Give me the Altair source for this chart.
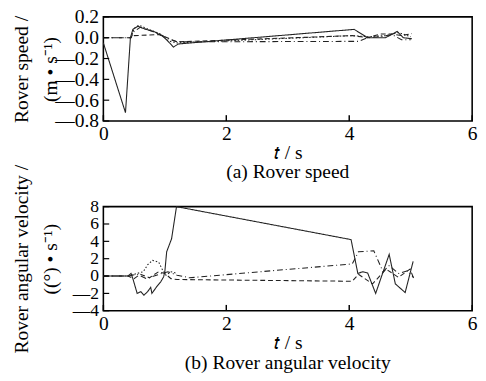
import altair as alt
import pandas as pd

# ---------- (a) Rover speed ----------
a_solid_t = [0.0, 0.36, 0.44, 0.48, 0.56, 0.69, 0.82, 0.95, 1.03, 1.14, 1.22, 4.08, 4.30, 4.38, 4.59, 4.78, 4.88, 5.02]
a_solid_v = [-0.05, -0.72, 0.0, 0.08, 0.11, 0.08, 0.06, 0.02, -0.02, -0.09, -0.06, 0.08, 0.0, 0.0, 0.0, 0.06, 0.0, -0.01]
a_dash_t = [0.0, 0.45, 0.5, 0.9, 1.0, 1.2, 4.05, 4.3, 4.5, 4.7, 4.85, 5.02]
a_dash_v = [0.0, 0.0, 0.02, 0.03, 0.01, -0.04, 0.02, 0.0, 0.035, 0.035, 0.02, 0.04]
a_dashdot_t = [0.0, 0.45, 0.5, 0.6, 0.9, 1.05, 1.2, 4.15, 4.3, 4.5, 4.7, 4.85, 5.0]
a_dashdot_v = [0.0, 0.0, 0.06, 0.1, 0.04, -0.01, -0.04, -0.035, 0.0, 0.01, 0.03, -0.02, -0.02]
a_dot_t = [0.45, 0.5, 0.58, 0.7, 0.95, 1.05, 1.2, 4.05, 4.3, 4.6, 4.8, 5.0]
a_dot_v = [0.0, 0.09, 0.12, 0.09, 0.03, -0.03, -0.05, 0.02, 0.01, 0.02, 0.05, 0.01]

# ---------- (b) Rover angular velocity ----------
b_solid_t = [0.0, 0.40, 0.45, 0.48, 0.55, 0.61, 0.66, 0.72, 0.77, 0.79, 0.86, 0.93, 0.98, 1.00, 1.03, 1.11, 1.19, 4.03, 4.14, 4.22, 4.30, 4.43, 4.65, 4.75, 4.91, 5.04]
b_solid_v = [0.0, 0.0, 0.3, -0.3, -2.0, -1.8, -2.2, -1.8, -1.3, -2.0, -1.3, -0.7, -0.1, 0.5, 2.8, 4.3, 8.0, 4.2, 0.3, 0.5, 0.35, -2.0, 2.5, -0.9, -1.9, 1.7]
b_dash_t = [0.0, 0.4, 0.5, 0.6, 0.75, 0.9, 1.0, 1.1, 1.2, 4.05, 4.15, 4.38, 4.6, 4.8, 4.99, 5.05]
b_dash_v = [0.0, 0.0, -0.3, 0.2, -0.2, 0.5, 0.3, -0.3, -0.4, -0.6, 0.2, -0.9, 0.8, -0.15, 0.8, -0.3]
b_dashdot_t = [0.0, 0.4, 0.55, 0.7, 0.95, 1.05, 1.2, 1.4, 4.05, 4.15, 4.4, 4.55, 4.65, 4.8, 4.95, 5.05]
b_dashdot_v = [0.0, 0.0, 0.2, -0.3, 0.3, 0.5, 0.1, -0.2, 1.4, 2.8, 2.9, 0.5, 1.2, 0.3, 0.6, -0.2]
b_dot_t = [0.4, 0.55, 0.65, 0.72, 0.8, 0.9, 0.97, 1.02, 1.1, 1.2]
b_dot_v = [0.0, 0.3, 0.5, 1.3, 1.8, 1.6, 0.6, 0.1, 0.5, 0.3]

x_ticks = [0, 2, 4, 6]
a_y_ticks = [0.2, 0.0, -0.2, -0.4, -0.6, -0.8]
b_y_ticks = [8, 6, 4, 2, 0, -2, -4]

SERIES = ["solid", "dash", "dashdot", "dot"]
DASHES = [[1, 0], [5, 3], [6, 3, 1, 3], [1.5, 2]]
FONT = "Liberation Serif"


def long_df(parts):
    rows = []
    for name, ts, vs in parts:
        for t, v in zip(ts, vs):
            rows.append({"series": name, "t": t, "v": v})
    return pd.DataFrame(rows)


def panel(df, ydom, yticks, ytitle, caption, fmt, ylabsize):
    xs = alt.Scale(domain=[0, 6], nice=False, zero=False)
    ys = alt.Scale(domain=ydom, nice=False, zero=False)
    neg = "'\u2014' + format(abs(datum.value), '%s')" % fmt
    pos = "format(datum.value, '%s')" % fmt
    xax = alt.Axis(values=x_ticks, format="d", title="\U0001D461 / s", ticks=False,
                   domain=False, grid=False, labelPadding=3, titlePadding=0,
                   labelOverlap=False, labelFlush=False)
    yax = alt.Axis(values=yticks, title=ytitle, ticks=False, domain=False,
                   grid=False, labelPadding=5, titleX=-84, titleBaseline="middle",
                   labelOverlap=False, labelFlush=False, labelFontSize=ylabsize,
                   labelExpr="datum.value < 0 ? %s : %s" % (neg, pos))
    lines = alt.Chart(df).mark_line(color="#222", strokeWidth=1.1).encode(
        x=alt.X("t:Q", scale=xs, axis=xax),
        y=alt.Y("v:Q", scale=ys, axis=yax),
        strokeDash=alt.StrokeDash("series:N", scale=alt.Scale(domain=SERIES, range=DASHES), legend=None),
        detail="series:N",
    )
    xt = alt.Chart(pd.DataFrame({"t": x_ticks})).mark_rule(color="black", strokeWidth=1.5).encode(
        x=alt.X("t:Q", scale=xs, axis=xax), y=alt.value(107), y2=alt.value(101))
    yt = alt.Chart(pd.DataFrame({"v": yticks})).mark_rule(color="black", strokeWidth=1.2).encode(
        y=alt.Y("v:Q", scale=ys, axis=yax), x=alt.value(0), x2=alt.value(6))
    return alt.layer(lines, xt, yt).properties(
        width=379, height=107,
        title=alt.TitleParams(caption, orient="bottom", font=FONT, fontSize=20,
                              fontWeight="normal", offset=0, anchor="middle"))


dfa = long_df([("solid", a_solid_t, a_solid_v), ("dash", a_dash_t, a_dash_v),
               ("dashdot", a_dashdot_t, a_dashdot_v), ("dot", a_dot_t, a_dot_v)])
dfb = long_df([("solid", b_solid_t, b_solid_v), ("dash", b_dash_t, b_dash_v),
               ("dashdot", b_dashdot_t, b_dashdot_v), ("dot", b_dot_t, b_dot_v)])

pa = panel(dfa, [-0.8, 0.2], a_y_ticks, ["Rover speed /", "(m \u2022 s\u207b\u00b9)"],
           "(a) Rover speed", ".1f", 20)
pb = panel(dfb, [-4, 8], b_y_ticks, ["Rover angular velocity /", "((\u00b0) \u2022 s\u207b\u00b9)"],
           "(b) Rover angular velocity", "d", 18)

chart = alt.vconcat(pa, pb, spacing=88, bounds="flush").properties(
    padding={"left": 3, "top": -7, "right": 0, "bottom": 0}
).configure(font=FONT).configure_view(
    stroke="black", strokeWidth=1.6
).configure_axis(
    labelFont=FONT, labelFontSize=20, labelColor="black",
    titleFont=FONT, titleFontSize=20, titleFontWeight="normal", titleColor="black",
    titleLineHeight=30,
)

chart.save("out.html", embed_options={"renderer": "svg", "actions": False})
